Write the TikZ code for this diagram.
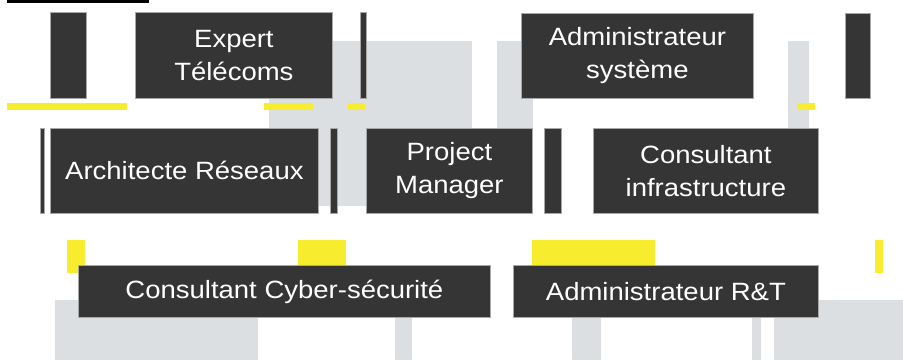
\documentclass[tikz,border=0pt]{standalone}
\usepackage{fontspec}
\setmainfont{Liberation Sans}[FakeStretch=1.1]
\usepackage{tikz}
\definecolor{boxgrey}{HTML}{353535}
\definecolor{shadegrey}{HTML}{DCDFE2}
\definecolor{markyellow}{HTML}{F8EC2E}
\definecolor{edgegrey}{HTML}{A8A8A8}
\begin{document}
\begin{tikzpicture}[x=1pt,y=-1pt,
	jobbox/.style={draw=edgegrey, line width=0.8pt, fill=boxgrey, text=white, anchor=north west, align=center, inner sep=0pt, font=\fontsize{25}{33}\selectfont},
	blockbar/.style={draw=edgegrey, line width=0.8pt, fill=boxgrey}]
			\useasboundingbox (0,0) rectangle (903,360);
			\fill[shadegrey] (269,41) rectangle (472,206);
			\fill[shadegrey] (497,41) rectangle (533,128);
			\fill[shadegrey] (788,41) rectangle (809,128);
			\fill[shadegrey] (55,300) rectangle (258,360);
			\fill[shadegrey] (395,300) rectangle (412,360);
			\fill[shadegrey] (572,300) rectangle (601,360);
			\fill[shadegrey] (752,300) rectangle (761,360);
			\fill[shadegrey] (774,300) rectangle (903,360);
			\fill[black] (7,0) rectangle (149,3);
			\fill[markyellow] (7,103) rectangle (127,110);
			\fill[markyellow] (264,103) rectangle (313,110);
			\fill[markyellow] (348,103) rectangle (365,110);
			\fill[markyellow] (798,103) rectangle (815,110);
			\fill[markyellow] (67,240) rectangle (85,273);
			\fill[markyellow] (298,240) rectangle (346,266);
			\fill[markyellow] (532,240) rectangle (655,266);
			\fill[markyellow] (875,240) rectangle (883,273);
			\draw[blockbar] (50,12) rectangle (86,98);
			\draw[blockbar] (360,12) rectangle (366,98);
			\draw[blockbar] (845,13) rectangle (870,98);
			\draw[blockbar] (40,128) rectangle (44,213);
			\draw[blockbar] (330,128) rectangle (337,213);
			\draw[blockbar] (544,128) rectangle (561,213);
			\node[jobbox, minimum width=197pt, minimum height=86pt] (expert) at (135,12) {Expert\\Télécoms};
			\node[jobbox, minimum width=232pt, minimum height=85pt] (adminsys) at (521,13) {Administrateur\\système};
			\node[jobbox, minimum width=268pt, minimum height=85pt] (archi) at (50,128) {Architecte Réseaux};
			\node[jobbox, minimum width=166pt, minimum height=85pt] (pm) at (366,128) {Project\\Manager};
			\node[jobbox, minimum width=225pt, minimum height=85pt] (infra) at (593,128) {Consultant\\infrastructure};
			\node[jobbox, minimum width=412pt, minimum height=52pt] (cyber) at (78,265) {Consultant Cyber-sécurité};
			\node[jobbox, minimum width=305pt, minimum height=52pt] (adminrt) at (513,265) {Administrateur R\&T};
		\end{tikzpicture}
\end{document}
